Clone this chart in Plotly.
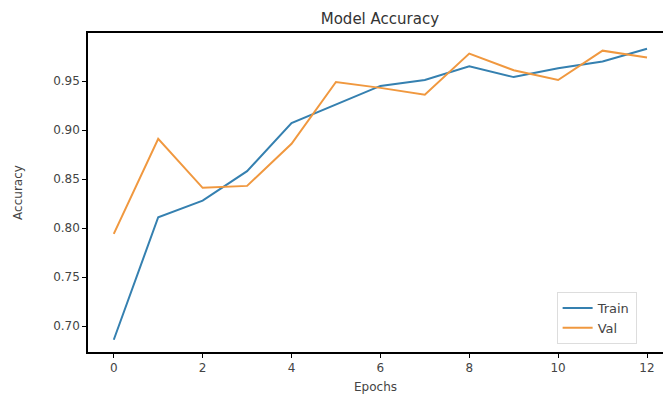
import plotly.graph_objects as go

epochs = list(range(13))
train_acc = [0.686, 0.811, 0.828, 0.858, 0.907, 0.926, 0.945, 0.951, 0.965, 0.954, 0.963, 0.970, 0.983]
val_acc = [0.794, 0.891, 0.841, 0.843, 0.886, 0.949, 0.943, 0.936, 0.978, 0.961, 0.951, 0.981, 0.974]
y_ticks = [0.70, 0.75, 0.80, 0.85, 0.90, 0.95]
x_ticks = [0, 2, 4, 6, 8, 10, 12]

fig = go.Figure()
fig.add_trace(go.Scatter(x=epochs, y=train_acc, mode="lines", name="Train",
                         line=dict(color="#3580b0", width=2)))
fig.add_trace(go.Scatter(x=epochs, y=val_acc, mode="lines", name="Val",
                         line=dict(color="#f0983f", width=2)))

font = dict(family="DejaVu Sans", size=12, color="#444444")
fig.update_layout(
    width=663, height=394,
    margin=dict(l=88, r=0, t=33, b=42, autoexpand=False),
    paper_bgcolor="white", plot_bgcolor="white",
    font=font,
    title=dict(text="Model Accuracy", x=0.573, xanchor="center", y=0.953, yanchor="middle",
               font=dict(family="DejaVu Sans", size=15, color="#333333")),
    legend=dict(x=0.815, xanchor="left", y=0.025, yanchor="bottom",
                bordercolor="#dddddd", borderwidth=1, bgcolor="rgba(255,255,255,0.85)",
                font=dict(family="DejaVu Sans", size=13, color="#444444"),
                tracegroupgap=0),
    showlegend=True,
)
fig.update_xaxes(range=[-0.58, 12.36], tickvals=x_ticks, showgrid=False, zeroline=False,
                 automargin=False,
                 showline=True, linecolor="black", linewidth=1.5, mirror=True,
                 ticks="outside", ticklen=4, tickcolor="black",
                 title=dict(text="Epochs", standoff=10, font=font))
fig.update_yaxes(range=[0.6735, 0.999], tickvals=y_ticks, tickformat=".2f",
                 showgrid=False, zeroline=False, automargin=False,
                 showline=True, linecolor="black", linewidth=1.5, mirror=False,
                 ticks="outside", ticklen=4, tickcolor="black",
                 title=dict(text="Accuracy", standoff=28, font=font))

fig.write_html("out.html", config={"displayModeBar": False},
               post_script="document.body.style.margin='0';document.body.style.overflow='hidden';")
